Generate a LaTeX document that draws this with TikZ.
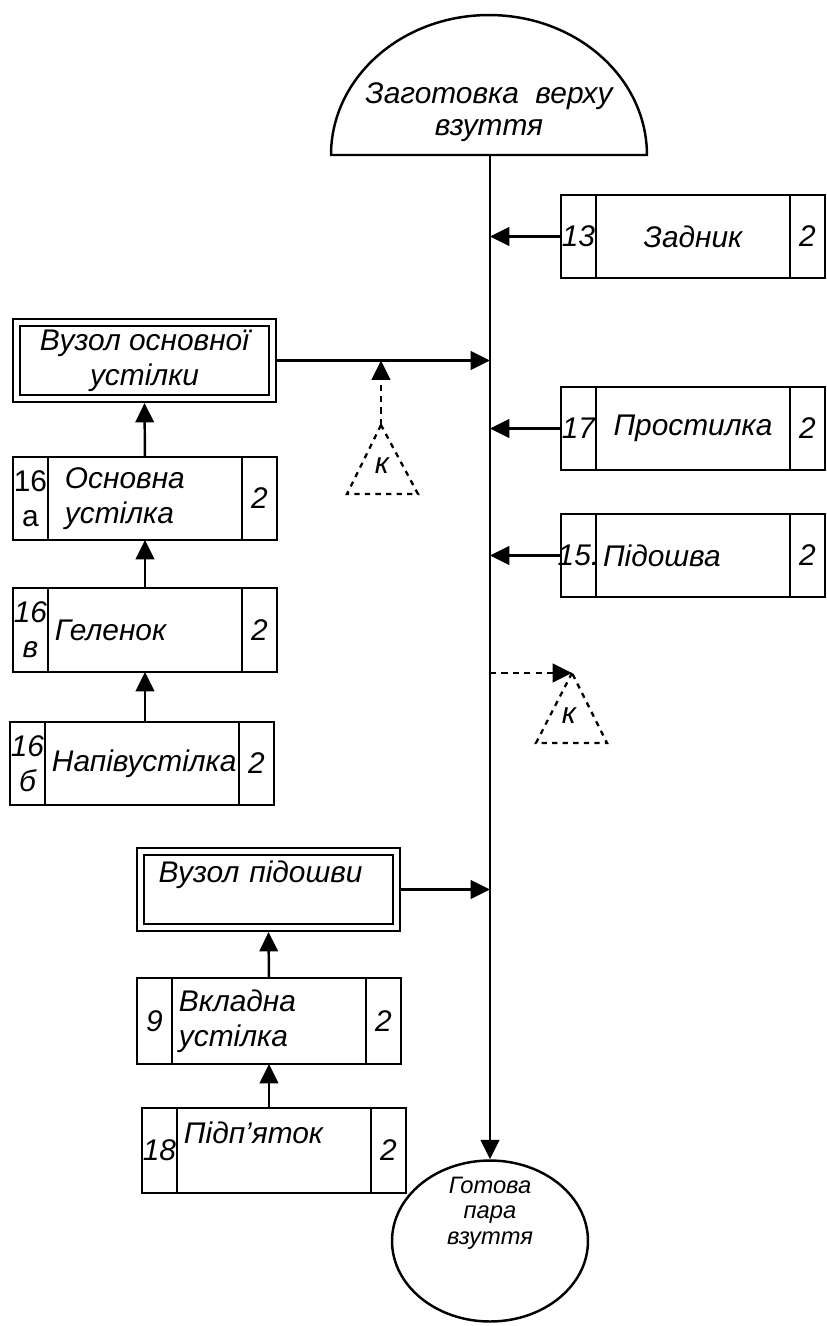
\documentclass[tikz,border=0pt]{standalone}
\usepackage{fontspec}
\setmainfont{Liberation Sans}
\usetikzlibrary{arrows.meta,positioning,shapes.geometric}

\begin{document}
\begin{tikzpicture}[
    x=0.02cm,
    y=-0.02cm,
    every node/.style={font=\fontsize{17}{20}\selectfont\itshape},
    cell/.style={
      rectangle,
      draw=black,
      line width=1.5pt,
      inner sep=0pt,
      outer sep=0pt,
      align=center,
      minimum height=1.66cm
    },
    numcell/.style={cell, minimum width=0.7cm},
    namecell/.style={cell, minimum width=3.88cm, text width=3.6cm},
    assembly/.style={
      rectangle,
      draw=black,
      line width=1.2pt,
      double,
      double distance=2.8pt,
      inner sep=0pt,
      outer sep=2.6pt,
      minimum width=5.12cm,
      minimum height=1.52cm
    },
    arr/.style={-{Triangle[length=11pt,width=10.5pt]}, line width=1.4pt},
    karr/.style={arr, dash pattern=on 3.5pt off 3pt},
    ktri/.style={line width=1.3pt, dash pattern=on 3pt off 3pt}
]

\useasboundingbox (0,0) rectangle (827,1326);

\draw[line width=1.4pt] (331,155) arc[start angle=180, end angle=0, x radius=3.16cm, y radius=2.8cm] -- cycle;
\node[align=center, font=\fontsize{17}{18}\selectfont\itshape] (zvv) at (489,112) {Заготовка\ \ верху\\взуття};
\coordinate (zvvb) at (490,155);

\node[ellipse, draw, line width=1.4pt, inner sep=0pt, minimum width=3.92cm, minimum height=3.22cm] (gpv) at (490,1241) {};
\node[align=center, font=\fontsize{13.5}{14.5}\selectfont\itshape] (gpvt) at (490,1213) {Готова\\пара\\взуття};

\draw[arr] (zvvb) -- (gpv.north);

\node[numcell] (zdn) at (578.5,236.5) {13};
\node[namecell, right=0pt of zdn] (zd) {Задник};
\node[numcell, right=0pt of zd] (zdk) {2};

\node[numcell] (prn) at (578.5,428.5) {17};
\node[namecell, right=0pt of prn] (pr) {Простилка};
\node[numcell, right=0pt of pr] (prk) {2};

\node[numcell] (pdn) at (578.5,555.5) {\makebox[0pt]{15.}};
\node[namecell, align=left, right=0pt of pdn] (pd) {Підошва};
\node[numcell, right=0pt of pd] (pdk) {2};

\draw[arr] (zdn.west) -- (zdn.west -| zvvb);
\draw[arr] (prn.west) -- (prn.west -| zvvb);
\draw[arr] (pdn.west) -- (pdn.west -| zvvb);

\node[assembly, align=center] (vou) at (144.5,360.5) {Вузол основної\\устілки};

\node[numcell, font=\fontsize{17}{20}\selectfont\upshape] (oun) at (30.5,498.5) {16\\а};
\node[namecell, text width=3.2cm, align=left, right=0pt of oun] (ou) {Основна\\устілка};
\node[numcell, right=0pt of ou] (ouk) {2};

\node[numcell, minimum height=1.68cm] (gln) at (30.5,630) {16\\в};
\node[namecell, minimum height=1.68cm, align=left, right=0pt of gln] (gl) {Геленок};
\node[numcell, minimum height=1.68cm, right=0pt of gl] (glk) {2};

\node[numcell] (nun) at (27.5,763.5) {16\\б};
\node[namecell, align=left, right=0pt of nun] (nu) {Напівустілка};
\node[numcell, right=0pt of nu] (nuk) {2};

\draw[arr] (ou.north) -- (vou.south);
\draw[arr] (gl.north) -- (ou.south);
\draw[arr] (nu.north -| gl.north) -- (gl.south);
\draw[arr] (vou.east) -- (vou.east -| zvvb);

\coordinate (ka) at (381,425);
\draw[ktri] (ka) -- (347,494) -- (418,494) -- cycle;
\node (k1) at (382,466) {к};
\draw[karr] (ka) -- (ka |- vou.east);

\coordinate (kb) at (572,673);
\draw[ktri] (kb) -- (536,743) -- (607,743) -- cycle;
\node (k2) at (569,716) {к};
\draw[karr] (kb -| zvvb) -- (kb);

\node[assembly, text width=4.4cm, align=left] (vp) at (268.5,889.5) {Вузол підошви\\\mbox{}};

\node[numcell, minimum height=1.72cm] (vun) at (154.5,1021) {9};
\node[namecell, minimum height=1.72cm, align=left, right=0pt of vun] (vu) {Вкладна\\устілка};
\node[numcell, minimum height=1.72cm, right=0pt of vu] (vuk) {2};

\node[numcell, minimum height=1.7cm] (ptn) at (159.5,1150.5) {18};
\node[namecell, minimum height=1.7cm, align=left, right=0pt of ptn] (pt) {Підп’яток\\\mbox{}};
\node[numcell, minimum height=1.7cm, right=0pt of pt] (ptk) {2};

\draw[arr] (vu.north) -- (vp.south);
\draw[arr] (pt.north -| vu.north) -- (vu.south);
\draw[arr] (vp.east) -- (vp.east -| zvvb);

\end{tikzpicture}
\end{document}
